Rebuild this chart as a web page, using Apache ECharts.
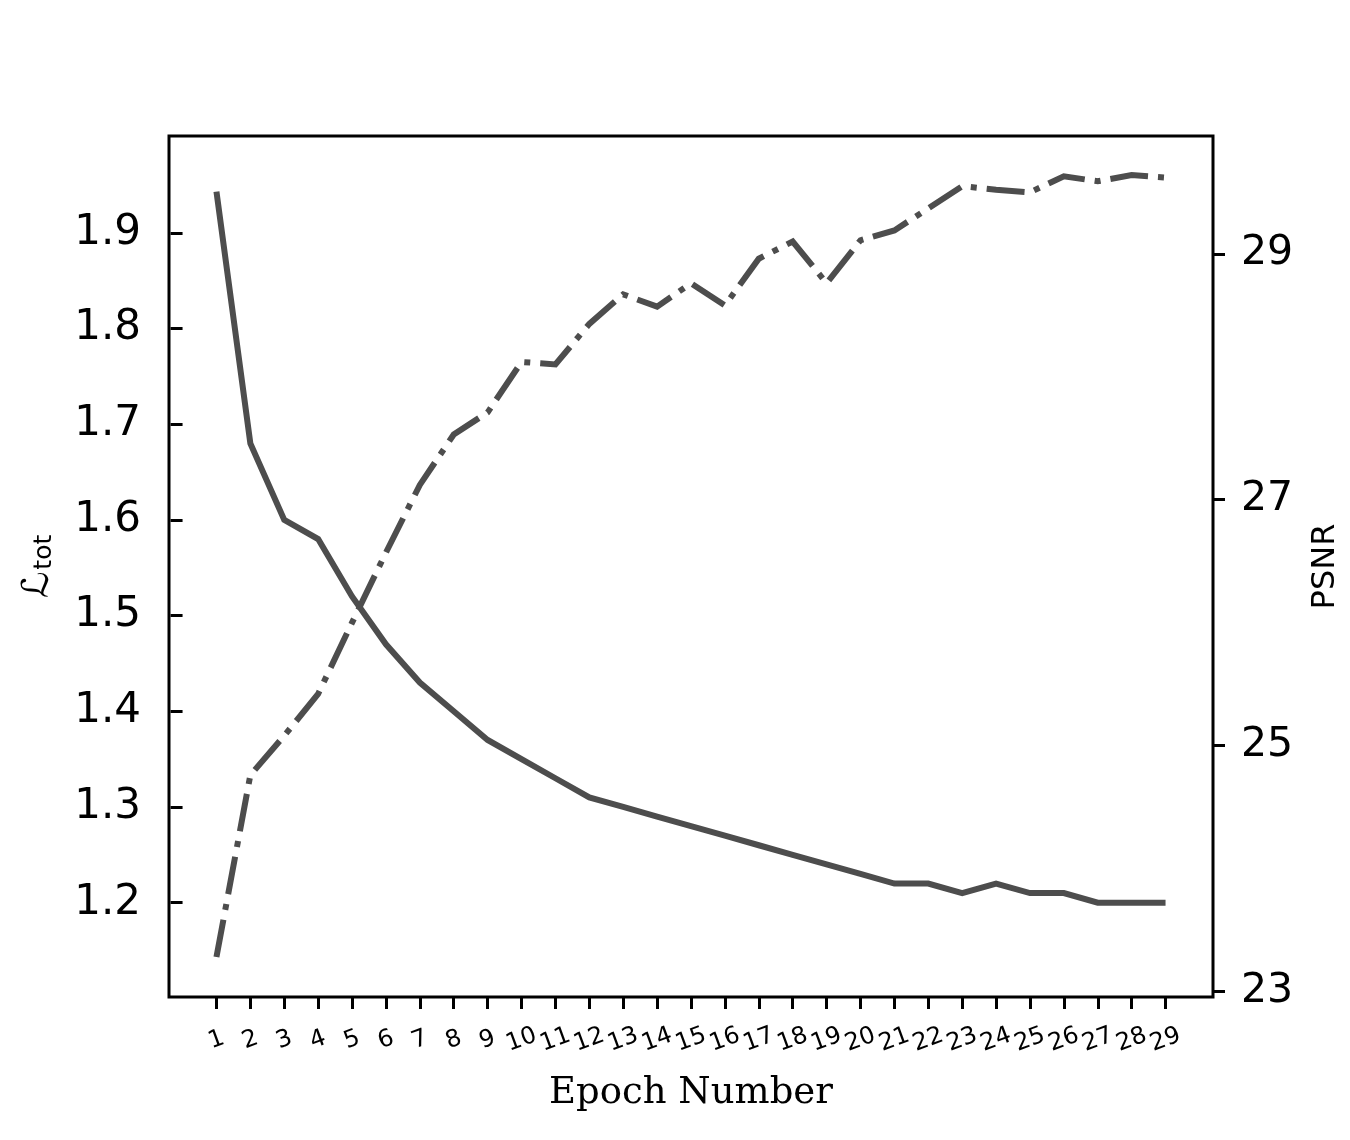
<!DOCTYPE html>
<html>
<head>
<meta charset="utf-8">
<script src="https://cdn.jsdelivr.net/npm/echarts@6/dist/echarts.min.js"></script>
<style>
html,body{margin:0;padding:0;background:#fff;}
#chart{width:1350px;height:1140px;}
</style>
</head>
<body>
<div id="chart"></div>
<script>
const epochs = [1,2,3,4,5,6,7,8,9,10,11,12,13,14,15,16,17,18,19,20,21,22,23,24,25,26,27,28,29];
const lossValues = [1.943,1.68,1.60,1.58,1.52,1.47,1.43,1.40,1.37,1.35,1.33,1.31,1.30,1.29,1.28,1.27,1.26,1.25,1.24,1.23,1.22,1.22,1.21,1.22,1.21,1.21,1.20,1.20,1.20];
const psnrValues = [23.28,24.76,25.08,25.42,26.00,26.57,27.12,27.53,27.71,28.12,28.10,28.43,28.67,28.57,28.76,28.58,28.96,29.10,28.76,29.11,29.19,29.37,29.55,29.52,29.50,29.63,29.59,29.64,29.62];
const lossTicks = [1.2,1.3,1.4,1.5,1.6,1.7,1.8,1.9];
const psnrTicks = [23,25,27,29];
const xLabel = 'Epoch Number';
const psnrLabel = 'PSNR';

const lineColor = '#4d4d4d';
const chart = echarts.init(document.getElementById('chart'), null, {renderer:'canvas'});
const tickStyle = {show:true, inside:false, length:12, lineStyle:{color:'#000', width:3}};

chart.setOption({
  animation:false,
  backgroundColor:'#fff',
  grid:{left:169, right:135, top:136, bottom:143, show:true, borderColor:'#000', borderWidth:3, backgroundColor:'transparent'},
  xAxis:{
    type:'value', min:-0.4, max:30.4,
    name:xLabel, nameLocation:'middle', nameGap:78,
    nameTextStyle:{fontFamily:'DejaVu Serif', fontSize:37, color:'#000'},
    axisLine:{show:false},
    splitLine:{show:false},
    axisTick:Object.assign({customValues:epochs}, tickStyle),
    axisLabel:{customValues:epochs, rotate:20, align:'center', verticalAlign:'middle', margin:43,
      fontFamily:'DejaVu Sans', fontSize:24, color:'#000', formatter:v=>String(v)}
  },
  yAxis:[{
    type:'value', position:'left', min:1.1014, max:2.0012,
    name:'{L|ℒ}{s|tot}', nameLocation:'middle', nameRotate:90, nameGap:112,
    nameTextStyle:{color:'#000', fontFamily:'DejaVu Sans', fontSize:31,
      rich:{L:{fontFamily:'DejaVu Sans', fontSize:37, fontStyle:'italic', color:'#000', verticalAlign:'bottom'},
            s:{fontFamily:'DejaVu Sans', fontSize:25, color:'#000', verticalAlign:'bottom', padding:[0,0,0,2]}}},
    axisLine:{show:false},
    splitLine:{show:false},
    axisTick:Object.assign({customValues:lossTicks}, tickStyle),
    axisLabel:{customValues:lossTicks, margin:28, fontFamily:'DejaVu Sans', fontSize:42, color:'#000',
      formatter:v=>Number(v).toFixed(1)}
  },{
    type:'value', position:'right', min:22.955, max:29.958,
    name:psnrLabel, nameLocation:'middle', nameRotate:90, nameGap:97,
    nameTextStyle:{color:'#000', fontFamily:'DejaVu Sans', fontSize:32},
    axisLine:{show:false},
    splitLine:{show:false},
    axisTick:Object.assign({customValues:psnrTicks}, tickStyle),
    axisLabel:{customValues:psnrTicks, margin:28, fontFamily:'DejaVu Sans', fontSize:41, color:'#000',
      formatter:v=>String(Math.round(v))}
  }],
  series:[{
    type:'line', yAxisIndex:0, showSymbol:false, symbol:'none',
    data:epochs.map((e,i)=>[e, lossValues[i]]),
    lineStyle:{color:lineColor, width:6, cap:'butt', join:'miter'}
  },{
    type:'line', yAxisIndex:1, showSymbol:false, symbol:'none',
    data:epochs.map((e,i)=>[e, psnrValues[i]]),
    lineStyle:{color:lineColor, width:6, type:[38,10,6,10], cap:'butt', join:'miter'}
  }]
});
</script>
</body>
</html>
